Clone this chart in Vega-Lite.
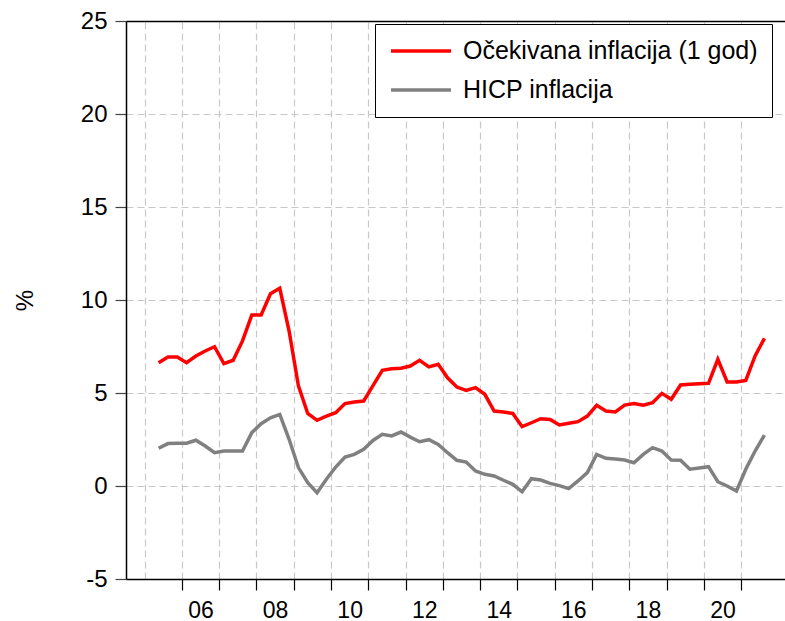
{
"$schema": "https://vega.github.io/schema/vega-lite/v6.json",
"width": 659,
"height": 558,
"autosize": {"type": "none"},
"padding": {"left": 126, "top": 21, "right": 0, "bottom": 42},
"background": "white",
"config": {"view": {"stroke": null}, "font": "Liberation Sans"},
"data": {"values": [
{"t":2005.375,"series":"Očekivana inflacija (1 god)","value":6.63},
{"t":2005.625,"series":"Očekivana inflacija (1 god)","value":6.94},
{"t":2005.875,"series":"Očekivana inflacija (1 god)","value":6.94},
{"t":2006.125,"series":"Očekivana inflacija (1 god)","value":6.63},
{"t":2006.375,"series":"Očekivana inflacija (1 god)","value":6.99},
{"t":2006.625,"series":"Očekivana inflacija (1 god)","value":7.26},
{"t":2006.875,"series":"Očekivana inflacija (1 god)","value":7.49},
{"t":2007.125,"series":"Očekivana inflacija (1 god)","value":6.58},
{"t":2007.375,"series":"Očekivana inflacija (1 god)","value":6.76},
{"t":2007.625,"series":"Očekivana inflacija (1 god)","value":7.8},
{"t":2007.875,"series":"Očekivana inflacija (1 god)","value":9.19},
{"t":2008.125,"series":"Očekivana inflacija (1 god)","value":9.19},
{"t":2008.375,"series":"Očekivana inflacija (1 god)","value":10.34},
{"t":2008.625,"series":"Očekivana inflacija (1 god)","value":10.63},
{"t":2008.875,"series":"Očekivana inflacija (1 god)","value":8.33},
{"t":2009.125,"series":"Očekivana inflacija (1 god)","value":5.38},
{"t":2009.375,"series":"Očekivana inflacija (1 god)","value":3.9},
{"t":2009.625,"series":"Očekivana inflacija (1 god)","value":3.53},
{"t":2009.875,"series":"Očekivana inflacija (1 god)","value":3.76},
{"t":2010.125,"series":"Očekivana inflacija (1 god)","value":3.94},
{"t":2010.375,"series":"Očekivana inflacija (1 god)","value":4.43},
{"t":2010.625,"series":"Očekivana inflacija (1 god)","value":4.52},
{"t":2010.875,"series":"Očekivana inflacija (1 god)","value":4.57},
{"t":2011.125,"series":"Očekivana inflacija (1 god)","value":5.4},
{"t":2011.375,"series":"Očekivana inflacija (1 god)","value":6.22},
{"t":2011.625,"series":"Očekivana inflacija (1 god)","value":6.3},
{"t":2011.875,"series":"Očekivana inflacija (1 god)","value":6.33},
{"t":2012.125,"series":"Očekivana inflacija (1 god)","value":6.45},
{"t":2012.375,"series":"Očekivana inflacija (1 god)","value":6.76},
{"t":2012.625,"series":"Očekivana inflacija (1 god)","value":6.4},
{"t":2012.875,"series":"Očekivana inflacija (1 god)","value":6.54},
{"t":2013.125,"series":"Očekivana inflacija (1 god)","value":5.82},
{"t":2013.375,"series":"Očekivana inflacija (1 god)","value":5.32},
{"t":2013.625,"series":"Očekivana inflacija (1 god)","value":5.14},
{"t":2013.875,"series":"Očekivana inflacija (1 god)","value":5.29},
{"t":2014.125,"series":"Očekivana inflacija (1 god)","value":4.93},
{"t":2014.375,"series":"Očekivana inflacija (1 god)","value":4.03},
{"t":2014.625,"series":"Očekivana inflacija (1 god)","value":3.98},
{"t":2014.875,"series":"Očekivana inflacija (1 god)","value":3.9},
{"t":2015.125,"series":"Očekivana inflacija (1 god)","value":3.19},
{"t":2015.375,"series":"Očekivana inflacija (1 god)","value":3.4},
{"t":2015.625,"series":"Očekivana inflacija (1 god)","value":3.62},
{"t":2015.875,"series":"Očekivana inflacija (1 god)","value":3.58},
{"t":2016.125,"series":"Očekivana inflacija (1 god)","value":3.28},
{"t":2016.375,"series":"Očekivana inflacija (1 god)","value":3.37},
{"t":2016.625,"series":"Očekivana inflacija (1 god)","value":3.46},
{"t":2016.875,"series":"Očekivana inflacija (1 god)","value":3.76},
{"t":2017.125,"series":"Očekivana inflacija (1 god)","value":4.34},
{"t":2017.375,"series":"Očekivana inflacija (1 god)","value":4.03},
{"t":2017.625,"series":"Očekivana inflacija (1 god)","value":3.98},
{"t":2017.875,"series":"Očekivana inflacija (1 god)","value":4.35},
{"t":2018.125,"series":"Očekivana inflacija (1 god)","value":4.44},
{"t":2018.375,"series":"Očekivana inflacija (1 god)","value":4.34},
{"t":2018.625,"series":"Očekivana inflacija (1 god)","value":4.48},
{"t":2018.875,"series":"Očekivana inflacija (1 god)","value":4.98},
{"t":2019.125,"series":"Očekivana inflacija (1 god)","value":4.66},
{"t":2019.375,"series":"Očekivana inflacija (1 god)","value":5.43},
{"t":2019.625,"series":"Očekivana inflacija (1 god)","value":5.47},
{"t":2019.875,"series":"Očekivana inflacija (1 god)","value":5.5},
{"t":2020.125,"series":"Očekivana inflacija (1 god)","value":5.52},
{"t":2020.375,"series":"Očekivana inflacija (1 god)","value":6.81},
{"t":2020.625,"series":"Očekivana inflacija (1 god)","value":5.59},
{"t":2020.875,"series":"Očekivana inflacija (1 god)","value":5.59},
{"t":2021.125,"series":"Očekivana inflacija (1 god)","value":5.68},
{"t":2021.375,"series":"Očekivana inflacija (1 god)","value":6.99},
{"t":2021.625,"series":"Očekivana inflacija (1 god)","value":7.94},
{"t":2005.375,"series":"HICP inflacija","value":2.03},
{"t":2005.625,"series":"HICP inflacija","value":2.28},
{"t":2005.875,"series":"HICP inflacija","value":2.3},
{"t":2006.125,"series":"HICP inflacija","value":2.3},
{"t":2006.375,"series":"HICP inflacija","value":2.46},
{"t":2006.625,"series":"HICP inflacija","value":2.15},
{"t":2006.875,"series":"HICP inflacija","value":1.79},
{"t":2007.125,"series":"HICP inflacija","value":1.88},
{"t":2007.375,"series":"HICP inflacija","value":1.88},
{"t":2007.625,"series":"HICP inflacija","value":1.88},
{"t":2007.875,"series":"HICP inflacija","value":2.87},
{"t":2008.125,"series":"HICP inflacija","value":3.35},
{"t":2008.375,"series":"HICP inflacija","value":3.67},
{"t":2008.625,"series":"HICP inflacija","value":3.85},
{"t":2008.875,"series":"HICP inflacija","value":2.51},
{"t":2009.125,"series":"HICP inflacija","value":0.99},
{"t":2009.375,"series":"HICP inflacija","value":0.18},
{"t":2009.625,"series":"HICP inflacija","value":-0.36},
{"t":2009.875,"series":"HICP inflacija","value":0.36},
{"t":2010.125,"series":"HICP inflacija","value":1.02},
{"t":2010.375,"series":"HICP inflacija","value":1.56},
{"t":2010.625,"series":"HICP inflacija","value":1.7},
{"t":2010.875,"series":"HICP inflacija","value":1.97},
{"t":2011.125,"series":"HICP inflacija","value":2.45},
{"t":2011.375,"series":"HICP inflacija","value":2.78},
{"t":2011.625,"series":"HICP inflacija","value":2.69},
{"t":2011.875,"series":"HICP inflacija","value":2.9},
{"t":2012.125,"series":"HICP inflacija","value":2.63},
{"t":2012.375,"series":"HICP inflacija","value":2.38},
{"t":2012.625,"series":"HICP inflacija","value":2.49},
{"t":2012.875,"series":"HICP inflacija","value":2.24},
{"t":2013.125,"series":"HICP inflacija","value":1.79},
{"t":2013.375,"series":"HICP inflacija","value":1.38},
{"t":2013.625,"series":"HICP inflacija","value":1.29},
{"t":2013.875,"series":"HICP inflacija","value":0.81},
{"t":2014.125,"series":"HICP inflacija","value":0.63},
{"t":2014.375,"series":"HICP inflacija","value":0.54},
{"t":2014.625,"series":"HICP inflacija","value":0.31},
{"t":2014.875,"series":"HICP inflacija","value":0.09},
{"t":2015.125,"series":"HICP inflacija","value":-0.31},
{"t":2015.375,"series":"HICP inflacija","value":0.39},
{"t":2015.625,"series":"HICP inflacija","value":0.32},
{"t":2015.875,"series":"HICP inflacija","value":0.14},
{"t":2016.125,"series":"HICP inflacija","value":0.02},
{"t":2016.375,"series":"HICP inflacija","value":-0.14},
{"t":2016.625,"series":"HICP inflacija","value":0.27},
{"t":2016.875,"series":"HICP inflacija","value":0.72},
{"t":2017.125,"series":"HICP inflacija","value":1.7},
{"t":2017.375,"series":"HICP inflacija","value":1.49},
{"t":2017.625,"series":"HICP inflacija","value":1.45},
{"t":2017.875,"series":"HICP inflacija","value":1.4},
{"t":2018.125,"series":"HICP inflacija","value":1.25},
{"t":2018.375,"series":"HICP inflacija","value":1.7},
{"t":2018.625,"series":"HICP inflacija","value":2.06},
{"t":2018.875,"series":"HICP inflacija","value":1.88},
{"t":2019.125,"series":"HICP inflacija","value":1.4},
{"t":2019.375,"series":"HICP inflacija","value":1.38},
{"t":2019.625,"series":"HICP inflacija","value":0.9},
{"t":2019.875,"series":"HICP inflacija","value":0.97},
{"t":2020.125,"series":"HICP inflacija","value":1.04},
{"t":2020.375,"series":"HICP inflacija","value":0.23},
{"t":2020.625,"series":"HICP inflacija","value":0.0},
{"t":2020.875,"series":"HICP inflacija","value":-0.27},
{"t":2021.125,"series":"HICP inflacija","value":0.9},
{"t":2021.375,"series":"HICP inflacija","value":1.88},
{"t":2021.625,"series":"HICP inflacija","value":2.74}
]},
"encoding": {
  "y": {"field": "value", "type": "quantitative",
    "scale": {"domain": [-5, 25], "nice": false, "zero": false},
    "axis": {"values": [-5, 0, 5, 10, 15, 20, 25], "grid": true, "gridColor": "#c8c8c8", "gridDash": [7, 4], "gridWidth": 1.2,
      "domainColor": "black", "domainWidth": 1.5, "tickColor": "#444", "tickSize": 11, "tickWidth": 1.2,
      "labelFontSize": 24, "labelColor": "black", "labelPadding": 8, "labelFont": "Liberation Sans",
      "labelExpr": "toString(datum.value)",
      "title": "%", "titleFontSize": 24, "titleFontWeight": "normal", "titleColor": "black", "titleFont": "Liberation Sans",
      "titleX": -101, "titleY": 279, "titleAlign": "center", "titleBaseline": "middle", "titleAngle": -90}}
},
"layer": [
  {
    "mark": {"type": "line", "opacity": 0},
    "encoding": {
      "x": {"field": "t", "type": "quantitative",
        "scale": {"domain": [2004.5, 2022.177], "nice": false, "zero": false},
        "axis": {"orient": "top", "values": [2005, 2006, 2007, 2008, 2009, 2010, 2011, 2012, 2013, 2014, 2015, 2016, 2017, 2018, 2019, 2020, 2021],
          "grid": true, "gridColor": "#c8c8c8", "gridDash": [7, 4], "gridWidth": 1.2,
          "ticks": false, "labels": false, "domain": true, "domainColor": "black", "domainWidth": 1.5, "title": null}},
      "detail": {"field": "series"}
    }
  },
  {
    "mark": {"type": "line", "strokeWidth": 3.5},
    "encoding": {
      "x": {"field": "t", "type": "quantitative",
        "scale": {"domain": [2004.5, 2022.177], "nice": false, "zero": false},
        "axis": {"orient": "bottom", "values": [2006, 2007, 2008, 2009, 2010, 2011, 2012, 2013, 2014, 2015, 2016, 2017, 2018, 2019, 2020, 2021],
          "grid": false, "domainColor": "black", "domainWidth": 1.5, "tickColor": "black", "tickSize": 11, "tickWidth": 1.2,
          "labelFontSize": 23, "labelColor": "black", "labelPadding": 9, "labelFont": "Liberation Sans",
          "labelOffset": 18.6, "labelFlush": false, "labelOverlap": false,
          "labelExpr": "datum.value % 2 == 0 ? slice(toString(datum.value), 2) : ''", "title": null}},
      "color": {"field": "series", "type": "nominal",
        "scale": {"domain": ["Očekivana inflacija (1 god)", "HICP inflacija"], "range": ["#ff0000", "#808080"]},
        "legend": {"orient": "none", "legendX": 249, "legendY": 3, "title": null,
          "strokeColor": "black", "fillColor": "white", "padding": 14, "cornerRadius": 0,
          "labelFontSize": 25, "labelColor": "black", "labelFont": "Liberation Sans", "labelLimit": 500,
          "symbolType": "stroke", "symbolSize": 3600, "symbolStrokeWidth": 3.5,
          "clipHeight": 26, "rowPadding": 13, "labelOffset": 10}}
    }
  }
],
"resolve": {"axis": {"x": "independent"}}
}
